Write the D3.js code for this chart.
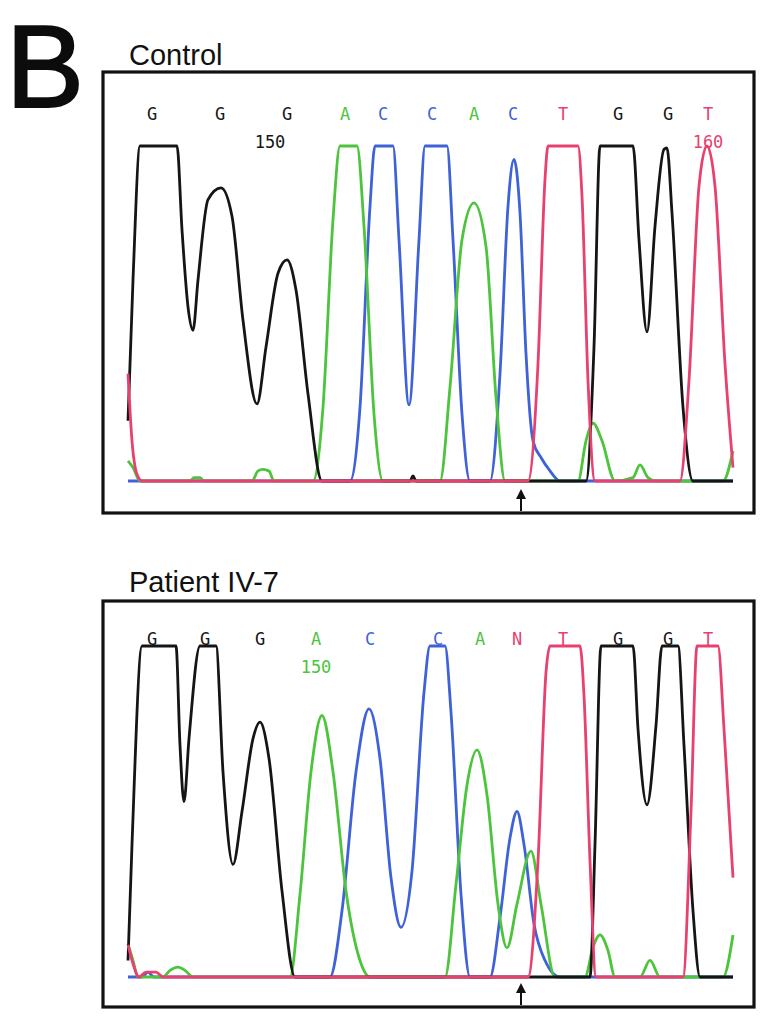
<!DOCTYPE html>
<html>
<head>
<meta charset="utf-8">
<script src="https://cdn.jsdelivr.net/npm/d3@7"></script>
<style>
  body { margin: 0; background: #fff; }
  svg { display: block; }
  .panelTitle { font-family: "Liberation Sans", Arial, sans-serif; font-size: 29px; fill: #111; }
  .base { font-family: "DejaVu Sans Mono", monospace; font-size: 17px; }
  .pos { font-family: "DejaVu Sans Mono", monospace; font-size: 17px; }
</style>
</head>
<body>
<script>
// base calls (position in scans) and trace data
// traces are [scan, signal] with signal 100 = clipped top
var colors = {G: "#151515", A: "#4cc43c", C: "#3f62d8", T: "#e8406f", N: "#e8406f"}

var controlBases = ["G","G","G","A","C","C","A","C","T","G","G","T"]
var controlBasePos = [24, 92, 159, 217, 255, 304, 346, 385, 435, 490, 540, 580]
var controlNumbers = [["150", 142, "G"], ["160", 580, "T"]]

var patientBases = ["G","G","G","A","C","C","A","N","T","G","G","T"]
var patientBasePos = [24, 77, 132, 188, 242, 310, 352, 389, 435, 490, 540, 580]
var patientNumbers = [["150", 188, "A"]]

var controlG = [[0,18],[5,60],[12,100],[49,100],[54,75],[60,52],[65,45],[70,60],[80,84],[93,87.5],[104,79],[115,48],[129,23],[138,40],[150,62],[159,66],[168,57],[180,26],[194,0],[282,0],[285,1.5],[288,0],[440,0],[458,0],[466,40],[472,100],[505,100],[511,72],[519,44.5],[527,76],[536,99],[539,99.4],[544,80],[555,22],[565,0],[605,0]]
var controlA = [[0,6],[5,4],[12,0],[62,0],[66,1],[72,1],[76,0],[124,0],[130,3],[135,3.5],[141,3],[146,0],[185,0],[195,22],[205,78],[212,100],[229,100],[236,76],[246,20],[255,0],[312,0],[322,28],[334,72],[346,83],[358,70],[368,25],[377,0],[450,0],[458,12],[465,17.3],[474,12],[487,0],[505,1],[512,4.8],[520,1],[528,0],[595,0],[605,9]]
var controlC = [[0,0],[222,0],[232,22],[242,82],[247,100],[265,100],[271,72],[281,22.7],[291,72],[297,100],[319,100],[325,72],[334,20],[342,0],[362,0],[372,32],[380,82],[386,96],[392,80],[398,38],[405,12],[413,7],[422,3],[432,0],[605,0]]
var controlT = [[0,32],[4,12],[9,2],[14,0],[400,0],[410,35],[417,90],[420,100],[450,100],[454,85],[460,30],[467,0],[552,0],[561,30],[571,88],[579,100],[587,88],[597,35],[605,4]]

var patientG = [[0,5],[4,40],[14,100],[48,100],[52,70],[56,53],[61,72],[72,100],[88,100],[95,62],[105,34],[114,50],[125,72],[132,77],[141,66],[154,26],[167,0],[402,0],[462,0],[467,40],[473,100],[505,100],[510,75],[519,52],[528,76],[534,100],[550,100],[556,70],[565,20],[572,0],[605,0]]
var patientA = [[0,10],[5,5],[10,0],[35,0],[42,2],[50,3],[57,2],[65,0],[162,0],[172,25],[183,62],[194,79],[205,62],[218,26],[232,5],[242,0],[317,0],[328,28],[339,58],[349,68.6],[359,55],[370,22],[379,8.8],[389,22],[403,38],[413,22],[427,0],[457,0],[465,9],[472,12.7],[480,8],[487,0],[512,0],[522,5],[532,0],[595,0],[605,12.7]]
var patientC = [[0,0],[14,0],[20,1.5],[26,0],[202,0],[214,20],[228,62],[241,81],[252,66],[263,30],[273,15],[284,32],[296,86],[302,100],[317,100],[323,80],[333,25],[342,0],[362,0],[372,18],[382,42],[389,50],[396,40],[406,16],[417,5],[432,0],[605,0]]
var patientT = [[0,9.7],[5,4],[11,0],[18,1.5],[28,1.5],[35,0],[400,0],[410,35],[418,92],[422,100],[452,100],[456,85],[462,35],[468,0],[555,0],[563,50],[569,100],[590,100],[596,75],[605,30]]

var arrowScan = 393

var width = 774, height = 1028

var svg = d3.select("body").append("svg")
  .attr("width", width)
  .attr("height", height)

svg.append("text")
  .attr("x", 6)
  .attr("y", 107)
  .attr("font-family", "Liberation Sans, Arial, sans-serif")
  .attr("font-size", 117)
  .attr("fill", "#0c0c0c")
  .attr("stroke", "#0c0c0c")
  .attr("stroke-width", 2)
  .text("B")

var x = d3.scaleLinear().domain([0, 605]).range([128, 733])

function drawPanel(opts) {
  var g = svg.append("g")
  var y = d3.scaleLinear().domain([0, 100]).range([opts.base, opts.top])

  g.append("text")
    .attr("class", "panelTitle")
    .attr("x", 129)
    .attr("y", opts.titleY)
    .text(opts.title)

  g.append("rect")
    .attr("x", opts.box[0])
    .attr("y", opts.box[1])
    .attr("width", opts.box[2] - opts.box[0])
    .attr("height", opts.box[3] - opts.box[1])
    .attr("fill", "none")
    .attr("stroke", "#111")
    .attr("stroke-width", 3.2)

  var line = d3.line()
    .x(function(d) { return x(d[0]) })
    .y(function(d) { return y(d[1]) })
    .curve(d3.curveMonotoneX)

  // drawing order: blue, green, black, red (red ends up on the baseline)
  var traces = [["C", opts.C], ["A", opts.A], ["G", opts.G], ["T", opts.T]]
  g.selectAll(".trace")
    .data(traces)
    .enter().append("path")
    .attr("class", "trace")
    .attr("d", function(d) { return line(d[1]) })
    .attr("fill", "none")
    .attr("stroke", function(d) { return colors[d[0]] })
    .attr("stroke-width", 2.8)
    .attr("stroke-linejoin", "round")

  g.selectAll(".base")
    .data(opts.bases)
    .enter().append("text")
    .attr("class", "base")
    .attr("text-anchor", "middle")
    .attr("x", function(d, i) { return x(opts.basePos[i]) })
    .attr("y", opts.letterY)
    .attr("fill", function(d) { return colors[d] })
    .text(function(d) { return d })

  g.selectAll(".pos")
    .data(opts.numbers)
    .enter().append("text")
    .attr("class", "pos")
    .attr("text-anchor", "middle")
    .attr("x", function(d) { return x(d[1]) })
    .attr("y", opts.letterY + 28)
    .attr("fill", function(d) { return colors[d[2]] })
    .text(function(d) { return d[0] })

  // arrow under the changed base
  var ax = x(arrowScan)
  g.append("line")
    .attr("x1", ax).attr("x2", ax)
    .attr("y1", opts.box[3] - 2).attr("y2", opts.box[3] - 16)
    .attr("stroke", "#111").attr("stroke-width", 2)
  g.append("path")
    .attr("d", "M" + (ax - 5) + "," + (opts.box[3] - 14) + "L" + ax + "," + (opts.box[3] - 24) + "L" + (ax + 5) + "," + (opts.box[3] - 14) + "Z")
    .attr("fill", "#111")
}

drawPanel({
  title: "Control", titleY: 65,
  box: [103, 72, 754, 513],
  base: 481, top: 146, letterY: 120,
  bases: controlBases, basePos: controlBasePos, numbers: controlNumbers,
  G: controlG, A: controlA, C: controlC, T: controlT
})

drawPanel({
  title: "Patient IV-7", titleY: 592,
  box: [103, 601, 754, 1007],
  base: 977, top: 646, letterY: 645,
  bases: patientBases, basePos: patientBasePos, numbers: patientNumbers,
  G: patientG, A: patientA, C: patientC, T: patientT
})
</script>
</body>
</html>
